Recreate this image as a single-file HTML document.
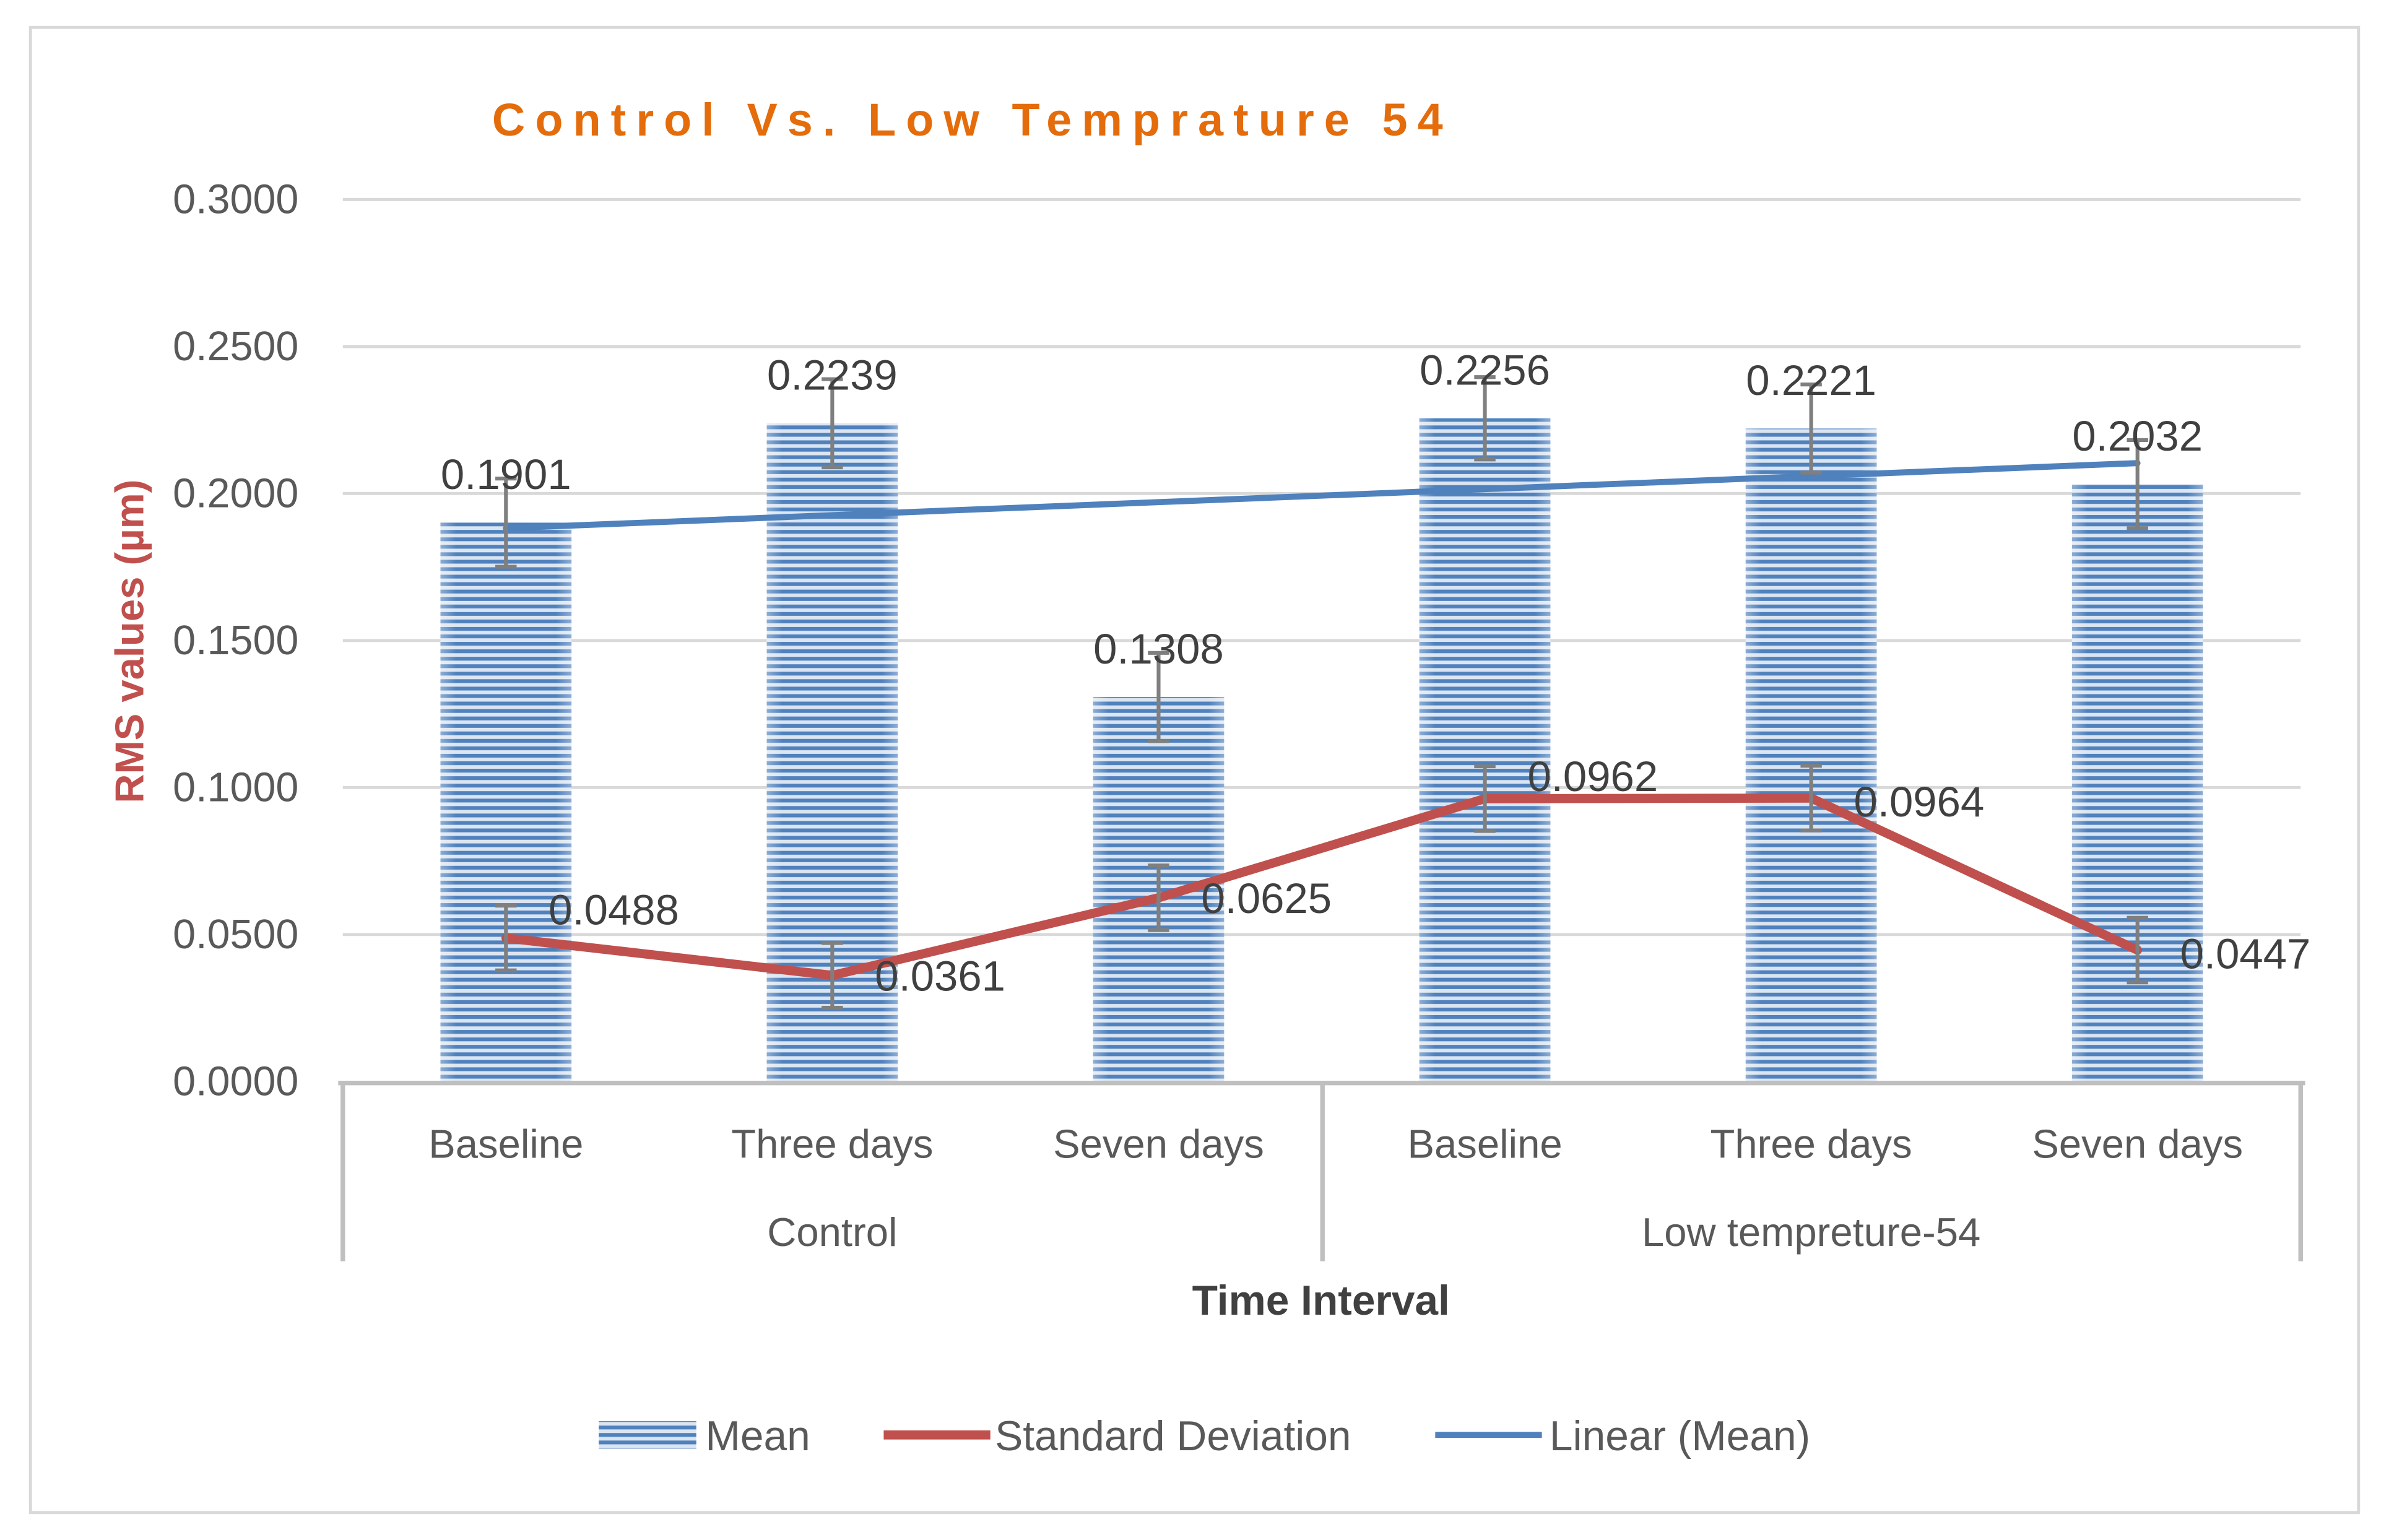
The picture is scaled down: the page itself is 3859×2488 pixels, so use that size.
<!DOCTYPE html>
<html><head><meta charset="utf-8"><style>
html,body{margin:0;padding:0;background:#fff;}
svg{display:block;}
text{font-family:"Liberation Sans",sans-serif;}
</style></head><body>
<svg id="chart" width="3859" height="2488" viewBox="0 0 1568 1011" preserveAspectRatio="none" xmlns="http://www.w3.org/2000/svg">
<defs>
<pattern id="stripes" patternUnits="userSpaceOnUse" width="10" height="4.9">
<rect width="10" height="4.9" fill="#dbe5f1"/>
<rect y="0" width="10" height="2.5" fill="#4f81bd"/>
</pattern>
<linearGradient id="edge" x1="0" x2="1" y1="0" y2="0">
<stop offset="0" stop-color="#fff" stop-opacity="0.35"/>
<stop offset="0.12" stop-color="#fff" stop-opacity="0"/>
<stop offset="0.88" stop-color="#fff" stop-opacity="0"/>
<stop offset="1" stop-color="#fff" stop-opacity="0.35"/>
</linearGradient>
</defs>
<rect x="20" y="18" width="1528" height="975" fill="#fff" stroke="#d9d9d9" stroke-width="2"/>
<text x="323" y="89" font-size="30" font-weight="bold" fill="#e46c0a" textLength="624" lengthAdjust="spacing">Control Vs. Low Temprature 54</text>
<g id="grid"></g>
<g id="yticks"></g>
<text transform="translate(94,421) rotate(-90)" text-anchor="middle" font-size="26.5" font-weight="bold" fill="#c0504d">RMS values (µm)</text>
<g id="bars"></g>
<g id="axis"></g>
<g id="overlay"></g>
<text x="867" y="863" text-anchor="middle" font-size="27.5" font-weight="bold" fill="#404040">Time Interval</text>
<g>
<g>
<rect x="393" y="933" width="64" height="18" fill="url(#stripes)"/>
<text x="463" y="952" font-size="27.5" fill="#595959">Mean</text></g>
<g>
<line x1="580" y1="942" x2="650" y2="942" stroke="#c0504d" stroke-width="6"/>
<text x="653" y="952" font-size="27.5" fill="#595959">Standard Deviation</text></g>
<g>
<line x1="942" y1="942" x2="1012" y2="942" stroke="#4f81bd" stroke-width="4"/>
<text x="1017" y="952" font-size="27.5" fill="#595959">Linear (Mean)</text></g>
</g>
</svg>
<script>
const categories = ["Baseline","Three days","Seven days","Baseline","Three days","Seven days"];
const groups = ["Control","Low tempreture-54"];
const meanValues = [0.1901,0.2239,0.1308,0.2256,0.2221,0.2032];
const meanErrors = [0.015,0.015,0.015,0.014,0.015,0.015];
const sdValues = [0.0488,0.0361,0.0625,0.0962,0.0964,0.0447];
const sdErrors = [0.011,0.011,0.011,0.011,0.011,0.011];
const yTicks = [0,0.05,0.1,0.15,0.2,0.25,0.3];
const sdLabelDy = [-19,0,0,-15,2,2];

const NS="http://www.w3.org/2000/svg";
const plotL=225, plotR=1510, y0=710, yTop=131, yMax=0.3;
const step=(plotR-plotL)/categories.length;
function xPos(i){return plotL+step*(i+0.5);}
function yPos(v){return y0-(v/yMax)*(y0-yTop);}
function mk(tag,attrs,parent){const e=document.createElementNS(NS,tag);for(const k in attrs)e.setAttribute(k,attrs[k]);parent.appendChild(e);return e;}
const grid=document.getElementById('grid'),yt=document.getElementById('yticks'),bars=document.getElementById('bars'),axis=document.getElementById('axis'),ov=document.getElementById('overlay');

yTicks.forEach(t=>{
  if(t>0){const l=mk('line',{x1:plotL,x2:plotR,y1:yPos(t),y2:yPos(t),stroke:'#d9d9d9','stroke-width':2},grid);
  
  }
  const tx=mk('text',{x:196,y:yPos(t)+9,'text-anchor':'end','font-size':27,fill:'#595959'},yt);
  tx.textContent=t.toFixed(4);
  
  
});

const bw=86;
meanValues.forEach((v,i)=>{
  const g=mk('g',{},bars);
  
  
  mk('rect',{x:xPos(i)-bw/2,y:yPos(v),width:bw,height:y0-yPos(v),fill:'url(#stripes)'},g);
  mk('rect',{x:xPos(i)-bw/2,y:yPos(v),width:bw,height:y0-yPos(v),fill:'url(#edge)'},g);
});

mk('line',{x1:plotL-3,x2:plotR+3,y1:y0+1,y2:y0+1,stroke:'#bfbfbf','stroke-width':3},axis);
[plotL,(plotL+plotR)/2+0.5,plotR].forEach(x=>{
  const l=mk('line',{x1:x,x2:x,y1:y0,y2:828,stroke:'#bfbfbf','stroke-width':3},axis);
  
  
});
categories.forEach((c,i)=>{
  const t=mk('text',{x:xPos(i),y:760,'text-anchor':'middle','font-size':26.5,fill:'#595959'},axis);
  t.textContent=c;
  
  
});
groups.forEach((g,j)=>{
  const t=mk('text',{x:xPos(j*3+1),y:818,'text-anchor':'middle','font-size':26.5,fill:'#595959'},axis);
  t.textContent=g;
  
  
});

function errBar(x,v,e,name){
  const g=mk('g',{stroke:'#7f7f7f','stroke-width':2.5,fill:'none'},ov);
  
  
  mk('line',{x1:x,x2:x,y1:yPos(v+e),y2:yPos(v-e)},g);
  mk('line',{x1:x-7,x2:x+7,y1:yPos(v+e),y2:yPos(v+e)},g);
  mk('line',{x1:x-7,x2:x+7,y1:yPos(v-e),y2:yPos(v-e)},g);
}

const n=meanValues.length;let mx=0,my=0;meanValues.forEach((v,i)=>{mx+=i+1;my+=v;});mx/=n;my/=n;
let sxy=0,sxx=0;meanValues.forEach((v,i)=>{sxy+=(i+1-mx)*(v-my);sxx+=(i+1-mx)*(i+1-mx);});
const slope=sxy/sxx,icpt=my-slope*mx;
const trend=mk('line',{x1:xPos(0),y1:yPos(icpt+slope*1),x2:xPos(n-1),y2:yPos(icpt+slope*n),stroke:'#4f81bd','stroke-width':4,'stroke-linecap':'round'},ov);



meanValues.forEach((v,i)=>errBar(xPos(i),v,meanErrors[i],'mean-error-bar'));

const sdLine=mk('polyline',{points:sdValues.map((v,i)=>xPos(i)+','+yPos(v)).join(' '),fill:'none',stroke:'#c0504d','stroke-width':6,'stroke-linejoin':'round','stroke-linecap':'round'},ov);


sdValues.forEach((v,i)=>errBar(xPos(i),v,sdErrors[i],'sd-error-bar'));

meanValues.forEach((v,i)=>{
  const t=mk('text',{x:xPos(i),y:yPos(v)-22,'text-anchor':'middle','font-size':28,fill:'#404040'},ov);
  t.textContent=v.toFixed(4);
  
  
});
sdValues.forEach((v,i)=>{
  const t=mk('text',{x:xPos(i)+28,y:yPos(v)+10+sdLabelDy[i],'font-size':28,fill:'#404040'},ov);
  t.textContent=v.toFixed(4);
  
  
});
</script>
</body></html>
